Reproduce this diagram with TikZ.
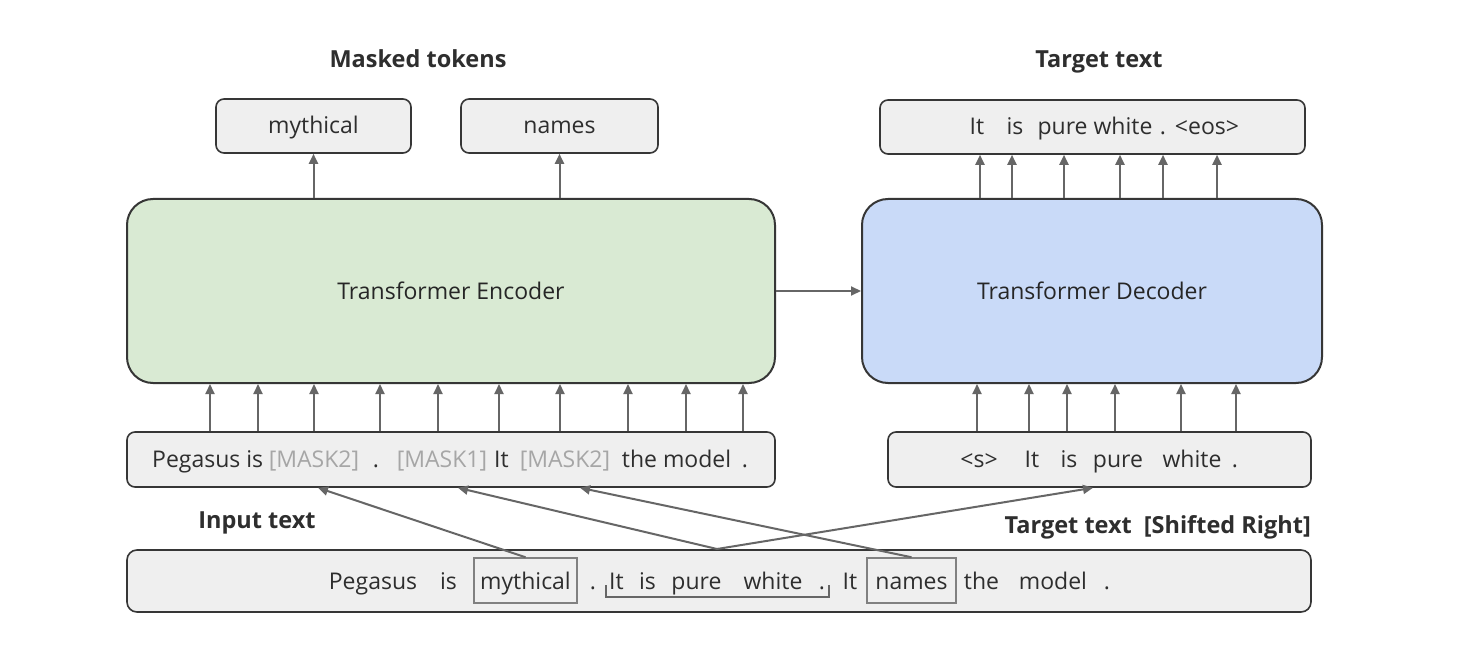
\documentclass[tikz,border=0pt]{standalone}
\usepackage{fontspec}
\setmainfont{Open Sans}
\usetikzlibrary{arrows.meta}
\definecolor{boxgray}{HTML}{EFEFEF}
\definecolor{edge}{HTML}{363636}
\definecolor{arr}{HTML}{666666}
\definecolor{encfill}{HTML}{D9EAD3}
\definecolor{decfill}{HTML}{C9DAF8}
\definecolor{txt}{HTML}{2E2E2E}
\definecolor{masktxt}{HTML}{A6A6A6}
\definecolor{hledge}{HTML}{808080}
\begin{document}
\begin{tikzpicture}[x=1pt,y=-1pt,
  box/.style={draw=edge, fill=boxgray, line width=1.6pt, rounded corners=8pt, inner sep=0pt},
  big/.style={draw=edge, line width=2pt, rounded corners=26pt, inner sep=0pt},
  hl/.style={draw=hledge, line width=1.5pt, inner sep=0pt},
  w/.style={text=txt, font=\fontsize{23}{27}\selectfont, inner sep=0pt, anchor=base},
  mw/.style={w, text=masktxt},
  lbl/.style={text=txt, font=\fontsize{23.5}{27}\selectfont\bfseries, inner sep=0pt, anchor=base},
  arrow/.style={draw=arr, line width=2pt, -{Triangle[length=10pt,width=9pt]}},
  brk/.style={draw=arr, line width=1.4pt}
]
\useasboundingbox (0,0) rectangle (1472,660);
\fill[white] (0,0) rectangle (1472,660);

% labels
\node[lbl] (lmask) at (418,68) {Masked tokens};
\node[lbl] (ltgt) at (1099,68) {Target text};
\node[lbl] (linp) at (257,528) {Input text};
\node[lbl, anchor=base east] (lshift) at (1311,533) {Target text\hspace{12pt}[Shifted Right]};

% top boxes
\node[box, minimum width=195pt, minimum height=54pt] (myth) at (313.5,126) {};
\node[w] (tmyth) at (313.5,134) {mythical};
\node[box, minimum width=197pt, minimum height=54pt] (names) at (559.5,126) {};
\node[w] (tnames) at (559.5,134) {names};
\node[box, minimum width=425pt, minimum height=54pt] (tgt) at (1092.5,127) {};
\node[w] (t1) at (977,135) {It};
\node[w] (t2) at (1015,135) {is};
\node[w] (t3) at (1095,135) {pure white};
\node[w] (t5) at (1163,135) {.};
\node[w] (t6) at (1207,135) {<eos>};

% encoder / decoder
\node[big, fill=encfill, minimum width=648pt, minimum height=184pt] (enc) at (451,291) {};
\node[w, text=black!85] (tenc) at (451,300) {Transformer Encoder};
\node[big, fill=decfill, minimum width=460pt, minimum height=184pt] (dec) at (1092,291) {};
\node[w, text=black!85] (tdec) at (1092,300) {Transformer Decoder};
\draw[arrow] (enc.east) -- (dec.west);

% input row
\node[box, minimum width=648pt, minimum height=55pt] (inp) at (451,459.5) {};
\node[w, anchor=base west] (i1) at (152,467) {Pegasus is};
\node[mw] (i3) at (314,467) {[MASK2]};
\node[w] (i4) at (376,467) {.};
\node[mw] (i5) at (442,467) {[MASK1]};
\node[w] (i6) at (501.5,467) {It};
\node[mw] (i7) at (565,467) {[MASK2]};
\node[w] (i8) at (676.5,467) {the model};
\node[w] (i9) at (745,467) {.};

\node[box, minimum width=423pt, minimum height=55pt] (din) at (1099.5,459.5) {};
\node[w] (d1) at (979,467) {<s>};
\node[w] (d2) at (1032,467) {It};
\node[w] (d3) at (1069,467) {is};
\node[w] (d4) at (1118,467) {pure};
\node[w] (d5) at (1192,467) {white};
\node[w] (d6) at (1235,467) {.};

% bottom row
\node[box, rounded corners=10pt, minimum width=1184pt, minimum height=62pt] (all) at (719,581) {};
\node[hl, minimum width=103pt, minimum height=45pt] (bmyth) at (525.5,580.5) {};
\node[hl, minimum width=89pt, minimum height=45pt] (bnames) at (911.5,580.5) {};
\node[w] (b1) at (373,589) {Pegasus};
\node[w] (b2) at (448.5,589) {is};
\node[w] (b3) at (525.5,589) {mythical};
\node[w] (b4) at (593,589) {.};
\node[w] (b5) at (616.5,589) {It};
\node[w] (b6) at (647.5,589) {is};
\node[w] (b7) at (696.5,589) {pure};
\node[w] (b8) at (773,589) {white};
\node[w] (b9) at (822,589) {.};
\node[w] (b10) at (850,589) {It};
\node[w] (b11) at (911.5,589) {names};
\node[w] (b12) at (981.5,589) {the};
\node[w] (b13) at (1053,589) {model};
\node[w] (b14) at (1107,589) {.};
\coordinate (bl) at (606,585);
\coordinate (br) at (829,585);
\draw[brk] (bl) -- ++(0,12) -| (br);
\coordinate (sent) at (717,549);

% vertical arrows encoder
\foreach \x [count=\i] in {210,258,314,380,438,499,560,628,686,743} {
  \coordinate (ea\i) at (\x,0);
  \draw[arrow] (inp.north -| ea\i) -- (enc.south -| ea\i);
}
\foreach \x [count=\i] in {977,1029,1067,1115,1181,1236} {
  \coordinate (da\i) at (\x,0);
  \draw[arrow] (din.north -| da\i) -- (dec.south -| da\i);
}
\foreach \x [count=\i] in {980,1012,1064,1120,1163,1217} {
  \coordinate (ua\i) at (\x,0);
  \draw[arrow] (dec.north -| ua\i) -- (tgt.south -| ua\i);
}
\draw[arrow] (enc.north -| myth.south) -- (myth.south);
\draw[arrow] (enc.north -| names.south) -- (names.south);

% crossing arrows
\coordinate (k1) at (318,0);
\coordinate (k2) at (458,0);
\coordinate (k3) at (580,0);
\coordinate (k4) at (1093,0);
\draw[arrow] (bmyth.north) -- (inp.south -| k1);
\draw[arrow] (sent) -- (inp.south -| k2);
\draw[arrow] (bnames.north) -- (inp.south -| k3);
\draw[arrow] (sent) -- (din.south -| k4);
\end{tikzpicture}
\end{document}
